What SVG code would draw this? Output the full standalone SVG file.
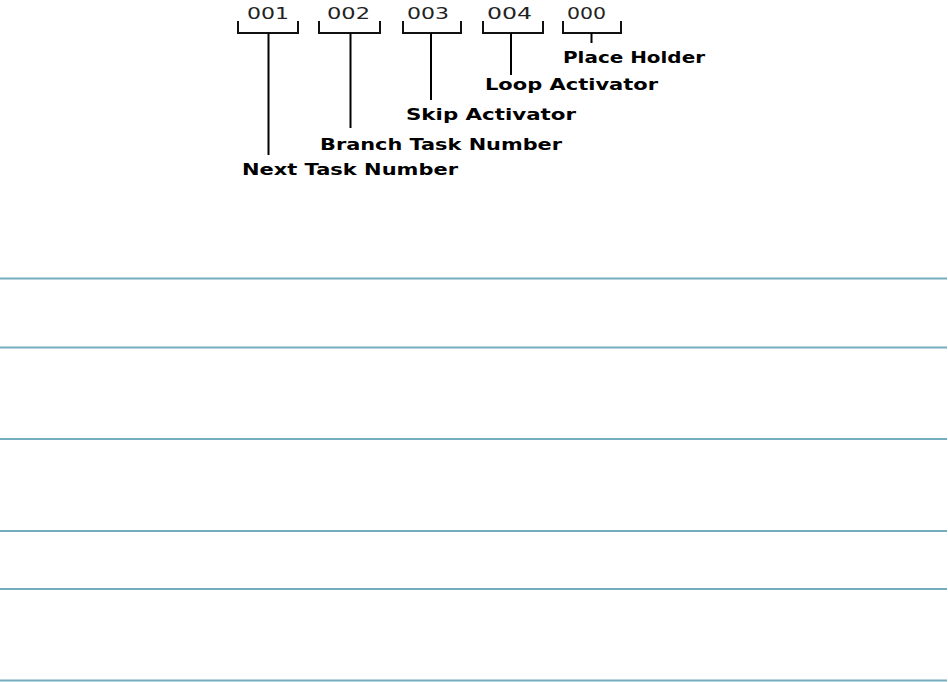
<svg xmlns="http://www.w3.org/2000/svg" width="948" height="682" viewBox="0 0 948 682">
<style>
.num{font-family:"DejaVu Sans","Liberation Sans",sans-serif;font-size:16px;fill:#222}
.lbl{font-family:"DejaVu Sans","Liberation Sans",sans-serif;font-size:16.5px;font-weight:bold;fill:#000}
.br{fill:none;stroke:#111;stroke-width:2}
.stem{stroke:#000;stroke-width:2}
.rule{stroke:#74adc0;stroke-width:2}
</style>
<rect width="948" height="682" fill="#fff"/>
<g id="rules">
<line class="rule" x1="0" y1="278.5" x2="947" y2="278.5"/>
<line class="rule" x1="0" y1="347.5" x2="947" y2="347.5"/>
<line class="rule" x1="0" y1="439" x2="947" y2="439"/>
<line class="rule" x1="0" y1="531" x2="947" y2="531"/>
<line class="rule" x1="0" y1="589" x2="947" y2="589"/>
<line class="rule" x1="0" y1="680.5" x2="947" y2="680.5"/>
</g>
<g id="field-001">
<text class="num" x="247" y="18.5" textLength="42" lengthAdjust="spacingAndGlyphs">001</text>
<path class="br" d="M238 21V33H298V21"/>
<text class="lbl" x="242" y="174.5" textLength="216" lengthAdjust="spacingAndGlyphs">Next Task Number</text>
</g>
<g id="field-002">
<text class="num" x="327" y="18.5" textLength="43" lengthAdjust="spacingAndGlyphs">002</text>
<path class="br" d="M319 21V33H380V21"/>
<text class="lbl" x="320" y="149.5" textLength="242" lengthAdjust="spacingAndGlyphs">Branch Task Number</text>
</g>
<g id="field-003">
<text class="num" x="407" y="18.5" textLength="42" lengthAdjust="spacingAndGlyphs">003</text>
<path class="br" d="M403 21V33H461V21"/>
<text class="lbl" x="406" y="119.5" textLength="170" lengthAdjust="spacingAndGlyphs">Skip Activator</text>
</g>
<g id="field-004">
<text class="num" x="487" y="18.5" textLength="45" lengthAdjust="spacingAndGlyphs">004</text>
<path class="br" d="M483 21V33H543V21"/>
<text class="lbl" x="485" y="89.5" textLength="173" lengthAdjust="spacingAndGlyphs">Loop Activator</text>
</g>
<g id="field-000">
<text class="num" x="567" y="18.5" textLength="39" lengthAdjust="spacingAndGlyphs">000</text>
<path class="br" d="M563 21V33H621V21"/>
<text class="lbl" x="563" y="62.5" textLength="142" lengthAdjust="spacingAndGlyphs">Place Holder</text>
</g>
<g id="connectors">
<line class="stem" x1="268.5" y1="33" x2="268.5" y2="155"/>
<line class="stem" x1="350.5" y1="33" x2="350.5" y2="128"/>
<line class="stem" x1="431" y1="33" x2="431" y2="100"/>
<line class="stem" x1="511" y1="33" x2="511" y2="75"/>
<line class="stem" x1="591.5" y1="33" x2="591.5" y2="43"/>
</g>
</svg>
